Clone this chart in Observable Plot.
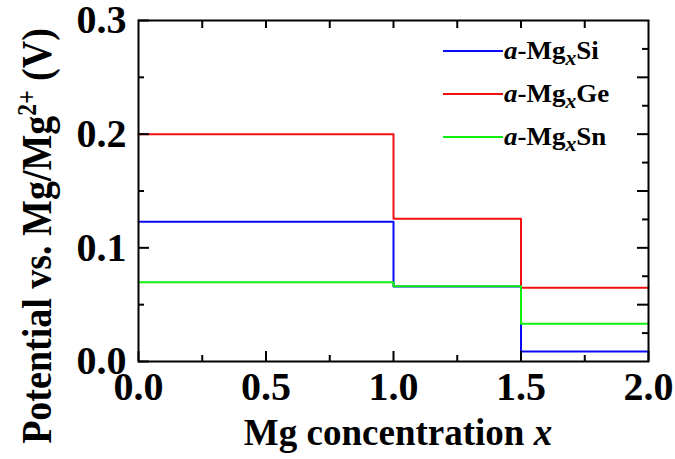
<!DOCTYPE html>
<html><head><meta charset="utf-8">
<script src="https://cdn.jsdelivr.net/npm/d3@7"></script>
<script src="https://cdn.jsdelivr.net/npm/@observablehq/plot@0.6"></script>
<style>
body{margin:0;background:#fff;}
#wrap{position:relative;width:675px;height:459px;font-family:"Liberation Serif","Times New Roman",serif;font-weight:bold;color:#000;}
.abs{position:absolute;white-space:nowrap;line-height:1;}
#ytitle{left:36px;top:236px;font-size:38px;transform:translate(-50%,-50%) rotate(-90deg) scaleY(1.12);}
#xtitle{left:398px;top:432px;font-size:37px;transform:translate(-50%,-50%);}
.leg{position:absolute;left:443px;display:flex;align-items:center;transform:translateY(-50%);}
.leg .sw{width:60px;height:2px;}
.leg .tx{font-size:25px;margin-left:1px;display:inline-block;transform:scaleX(1.08);transform-origin:left center;}
sub{font-size:0.8em;vertical-align:-0.3em;line-height:0;}
sup{font-size:0.62em;vertical-align:0.55em;line-height:0;}
</style></head><body><div id="wrap"></div>
<script>
// Data
const xSteps = [0, 1.0, 1.5, 2.0];
const seriesKeys = ["Si", "Ge", "Sn"];
const siValues = [0.123, 0.066, 0.0088, 0.0088];
const geValues = [0.200, 0.1255, 0.0648, 0.0648];
const snValues = [0.0697, 0.0662, 0.0332, 0.0332];
const seriesColors = ["#0a0af5", "#f21010", "#10f010"];
const xTicks = [0, 0.5, 1.0, 1.5, 2.0];
const xMinorTicks = [0.25, 0.75, 1.25, 1.75];
const yTicks = [0, 0.1, 0.2, 0.3];
const yMinorTicks = [0.05, 0.15, 0.25];
const yRightTicks = [0.05, 0.1, 0.15, 0.2, 0.25];
const yRightMinorTicks = [0.025, 0.075, 0.125, 0.175, 0.225, 0.275];
const xTopTicks = [0.25, 0.5, 0.75, 1.0, 1.25, 1.5, 1.75];

const rows = [];
[siValues, geValues, snValues].forEach((vals, i) => {
  vals.forEach((v, j) => rows.push({series: seriesKeys[i], x: xSteps[j], y: v}));
});

const W = 675, H = 459, mL = 138, mR = 27, mT = 20, mB = 98;
const fw = W - mL - mR, fh = H - mT - mB;
const tickY = (arr, side, len) => Plot.tickY(arr, {y: d => d, stroke: "black", strokeWidth: 2,
  insetLeft: side === "right" ? fw - len : 0, insetRight: side === "left" ? fw - len : 0});
const tickX = (arr, side, len) => Plot.tickX(arr, {x: d => d, stroke: "black", strokeWidth: 2,
  insetTop: side === "bottom" ? fh - len : 0, insetBottom: side === "top" ? fh - len : 0});

const chart = Plot.plot({
  width: W, height: H,
  marginLeft: mL, marginRight: mR, marginTop: mT, marginBottom: mB,
  x: {domain: [0, 2]},
  y: {domain: [0, 0.3]},
  color: {domain: seriesKeys, range: seriesColors},
  style: {fontFamily: "'Liberation Serif', 'Times New Roman', serif", fontWeight: "bold", background: "white", color: "black", overflow: "visible"},
  marks: [
    Plot.line(rows, {x: "x", y: "y", z: "series", stroke: "series", curve: "step-after", strokeWidth: 2}),
    tickY(yTicks, "left", 11),
    tickY(yMinorTicks, "left", 6),
    tickY(yRightTicks, "right", 11),
    tickY(yRightMinorTicks, "right", 6),
    tickX(xTicks, "bottom", 10),
    tickX(xMinorTicks, "bottom", 6),
    tickX(xTopTicks, "top", 8),
    Plot.axisY(yTicks, {anchor: "left", tickSize: 0, tickPadding: 12, tickFormat: d3.format(".1f"), fontSize: 40, fontWeight: "bold", label: null}),
    Plot.axisX(xTicks, {anchor: "bottom", tickSize: 0, tickPadding: 10, tickFormat: d3.format(".1f"), fontSize: 40, fontWeight: "bold", label: null}),
    Plot.frame({stroke: "black", strokeWidth: 2})
  ]
});
const wrap = document.getElementById("wrap");
wrap.appendChild(chart);

const yt = document.createElement("div");
yt.className = "abs"; yt.id = "ytitle";
yt.innerHTML = "Potential vs. Mg/Mg<sup>2+</sup> (V)";
wrap.appendChild(yt);

const xt = document.createElement("div");
xt.className = "abs"; xt.id = "xtitle";
xt.innerHTML = "Mg concentration <i>x</i>";
wrap.appendChild(xt);

const legY = [51, 94, 137];
seriesKeys.forEach((k, i) => {
  const d = document.createElement("div");
  d.className = "leg";
  d.style.top = legY[i] + "px";
  d.innerHTML = `<span class="sw" style="background:${seriesColors[i]}"></span><span class="tx"><i>a</i>-Mg<sub><i>x</i></sub>${k}</span>`;
  wrap.appendChild(d);
});
</script>
</body></html>
